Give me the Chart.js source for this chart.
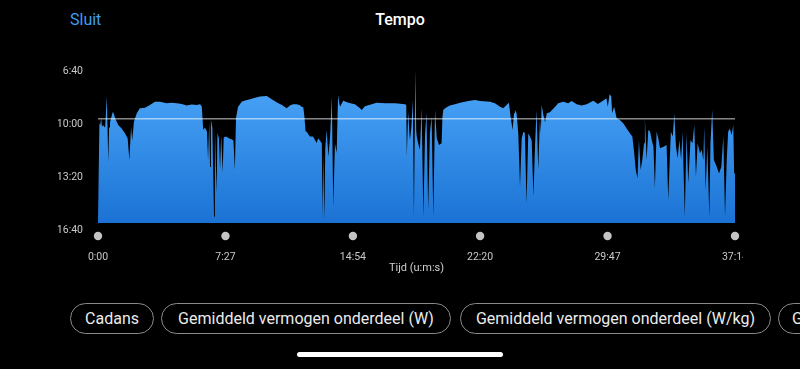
<!DOCTYPE html>
<html>
<head>
<meta charset="utf-8">
<script src="https://cdn.jsdelivr.net/npm/chart.js@4"></script>
<style>
  html, body { margin: 0; padding: 0; background: #000; width: 800px; height: 369px; overflow: hidden; font-family: Roboto, "Noto Sans", sans-serif; }
  #chartWrap { position: absolute; left: 0; top: 0; }
  .hdr { position: absolute; top: 10px; font-size: 16px; line-height: 20px; }
  #close { left: 70px; color: #3d9df3; }
  #title { left: 0; width: 800px; text-align: center; color: #fff; font-weight: 500; }
  .pill { position: absolute; top: 303px; height: 31px; box-sizing: border-box; border: 1px solid #8a8a8a; border-radius: 16px;
          color: #ececec; font-size: 16px; line-height: 29px; text-align: center; white-space: nowrap; overflow: hidden; }
  #homebar { position: absolute; left: 297px; top: 352px; width: 206px; height: 5px; border-radius: 3px; background: #fff; }
</style>
</head>
<body>
<div class="hdr" id="close">Sluit</div>
<div class="hdr" id="title">Tempo</div>
<div id="chartWrap"><canvas id="paceChart" width="743" height="280"></canvas></div>
<div class="pill" style="left:70px;width:84px">Cadans</div>
<div class="pill" style="left:161px;width:290px">Gemiddeld vermogen onderdeel (W)</div>
<div class="pill" style="left:460px;width:311px">Gemiddeld vermogen onderdeel (W/kg)</div>
<div class="pill" style="left:778px;width:200px;text-align:left;padding-left:13px">Gemiddeld</div>
<div id="homebar"></div>
<script>
// Pace (sec/km) over elapsed time (sec)
const timeSec = [
  0, 3, 5, 8, 11, 14, 18, 22, 25, 31, 33, 36, 39, 42, 47, 52, 56, 60, 71, 83, 95, 104, 110, 116, 120, 126, 136, 147, 165, 182,
  200, 217, 241, 258, 276, 294, 311, 329, 346, 358, 364, 369,
  375, 382, 386, 390, 393, 396, 401, 407, 410, 416, 419, 424, 428, 432, 437, 441, 449, 459, 470, 475, 480, 484, 491, 504,
  516, 533, 551, 568, 592, 609, 631, 645, 662, 673, 684, 697, 708, 714, 720, 724, 728, 732, 743, 754, 761, 767, 772, 779,
  785, 787, 790, 794, 797, 802, 808, 814, 820, 825, 831, 837, 842, 846, 849,
  860, 878, 901, 919, 925, 936, 960, 977, 1007, 1042, 1077, 1081, 1083, 1088, 1092, 1094, 1099, 1104, 1108, 1113, 1116,
  1118, 1123, 1129, 1135, 1141, 1147, 1152, 1158, 1164, 1170, 1176, 1182, 1188, 1196, 1205, 1208, 1211, 1217,
  1234, 1252, 1270, 1299, 1322, 1340, 1375, 1392, 1410, 1421, 1433, 1441, 1447, 1454, 1459, 1462, 1468, 1474, 1480, 1486,
  1492, 1497, 1503, 1509, 1515, 1521, 1527, 1533, 1538, 1544, 1550, 1553, 1556, 1562, 1568, 1574, 1585, 1603, 1614, 1631,
  1649, 1661, 1679, 1696, 1714, 1737, 1753, 1771, 1783, 1788, 1794, 1800, 1803, 1810, 1819, 1831, 1842, 1854, 1866, 1874,
  1880, 1886, 1892, 1897, 1903, 1909, 1915, 1918, 1924, 1930, 1936, 1942, 1948, 1953, 1959, 1965, 1971, 1983, 1994, 2000,
  2009, 2016, 2021, 2027, 2033, 2039, 2045, 2050, 2058, 2064, 2070, 2078, 2085, 2091, 2097, 2103, 2111, 2117, 2123, 2126,
  2131, 2137, 2144, 2148, 2154, 2160, 2170, 2178, 2186, 2193, 2199, 2205, 2210, 2216, 2222, 2228, 2231, 2234
];
const paceSec = [
  989, 989, 624, 630, 604, 637, 630, 637, 640, 523, 620, 770, 640, 620, 600, 580, 590, 605, 630, 643, 662, 680, 762, 637, 690, 618, 586, 567, 565, 555,
  542, 542, 548, 546, 548, 551, 557, 553, 555, 552, 560, 649,
  640, 655, 762, 620, 789, 610, 640, 976, 650, 888, 660, 680, 800, 670, 810, 676, 674, 680, 685, 690, 800, 604, 562, 542,
  538, 533, 527, 523, 521, 533, 547, 555, 567, 557, 552, 552, 556, 561, 563, 600, 655, 656, 674, 674, 687, 698, 680, 690,
  700, 981, 740, 989, 720, 649, 750, 674, 523, 939, 700, 736, 517, 548, 561,
  539, 546, 552, 567, 574, 559, 552, 546, 548, 548, 552, 555, 750, 580, 660, 687, 640, 536, 981, 423, 650,
  674, 700, 724, 566, 976, 665, 585, 951, 660, 600, 976, 574, 680, 706, 699, 599, 574, 567,
  557, 552, 546, 540, 536, 540, 542, 548, 561, 567, 555, 546, 599, 649, 586, 574, 586, 662, 863, 680,
  656, 660, 926, 662, 674, 690, 900, 700, 574, 800, 605, 660, 555, 592, 620, 586, 582, 561, 548, 542,
  548, 540, 552, 557, 552, 539, 551, 539, 529, 561, 514, 523, 586, 561, 605, 612, 624, 643, 662, 674,
  731, 800, 831, 687, 800, 762, 699, 605, 762, 649, 655, 687, 712, 869, 656, 680, 718, 712, 706, 913,
  656, 674, 586, 712, 756, 687, 762, 656, 976, 662, 850, 687, 699, 630, 825, 699, 737, 724, 762, 637,
  876, 712, 976, 699, 574, 762, 788, 813, 788, 674, 976, 762, 656, 643, 668, 630, 813, 813
];
const avgPace = 607;

const xTickValues = [0, 447, 894, 1340, 1787, 2234];
const xTickLabels = ['0:00', '7:27', '14:54', '22:20', '29:47', '37:14'];
const yTickValues = [400, 600, 800, 1000];
const yTickLabels = ['6:40', '10:00', '13:20', '16:40'];

const pacePoints = timeSec.map((t, i) => ({ x: t, y: paceSec[i] }));
const avgPoints = [{ x: timeSec[0], y: avgPace }, { x: timeSec[timeSec.length - 1], y: avgPace }];

// grey dots under each x tick
const tickDots = {
    id: 'tickDots',
    afterDraw(chart) {
        const { ctx, chartArea, scales } = chart;
        ctx.save();
        ctx.fillStyle = '#c4c4c4';
        scales.x.ticks.forEach(t => {
            ctx.beginPath();
            ctx.arc(scales.x.getPixelForValue(t.value), chartArea.bottom + 13, 4.2, 0, Math.PI * 2);
            ctx.fill();
        });
        ctx.restore();
    }
};

new Chart(document.getElementById('paceChart'), {
    type: 'line',
    data: {
        datasets: [
            {
                data: avgPoints,
                borderColor: 'rgba(255,255,255,0.8)',
                borderWidth: 1,
                pointRadius: 0,
                fill: false,
                order: 0
            },
            {
                data: pacePoints,
                borderWidth: 0,
                borderColor: 'rgba(0,0,0,0)',
                backgroundColor: (c) => {
                    const area = c.chart.chartArea;
                    if (!area) return '#3a8ee8';
                    const g = c.chart.ctx.createLinearGradient(0, area.top, 0, area.bottom);
                    g.addColorStop(0, '#50acfd');
                    g.addColorStop(1, '#1b72d4');
                    return g;
                },
                pointRadius: 0,
                tension: 0,
                fill: 'start',
                order: 1
            }
        ]
    },
    options: {
        responsive: false,
        animation: false,
        layout: { padding: { left: 58, right: 8, top: 64, bottom: 5 } },
        plugins: { legend: { display: false }, tooltip: { enabled: false } },
        scales: {
            x: {
                type: 'linear',
                min: 0,
                max: 2234,
                grid: { display: false },
                border: { display: false },
                afterBuildTicks: s => { s.ticks = xTickValues.map(v => ({ value: v })); },
                afterFit: s => { s.height = 52; s.paddingLeft = 0; s.paddingRight = 0; },
                ticks: {
                    padding: 20,
                    maxRotation: 0,
                    autoSkip: false,
                    color: '#c9c9c9',
                    font: { family: 'Roboto', size: 10.5 },
                    callback: (v, i) => xTickLabels[i]
                },
                title: {
                    display: true,
                    text: 'Tijd (u:m:s)',
                    color: '#cfcfcf',
                    font: { family: 'Roboto', size: 11 },
                    padding: { top: 0, bottom: 0 }
                }
            },
            y: {
                reverse: true,
                min: 400,
                max: 1000,
                grid: { display: false },
                border: { display: false },
                afterBuildTicks: s => { s.ticks = yTickValues.map(v => ({ value: v })); },
                afterFit: s => { s.width = 40; },
                ticks: {
                    padding: 7,
                    labelOffset: 7,
                    color: '#c9c9c9',
                    font: { family: 'Roboto', size: 10.5 },
                    callback: (v, i) => yTickLabels[i]
                }
            }
        }
    },
    plugins: [tickDots]
});
</script>
</body>
</html>
